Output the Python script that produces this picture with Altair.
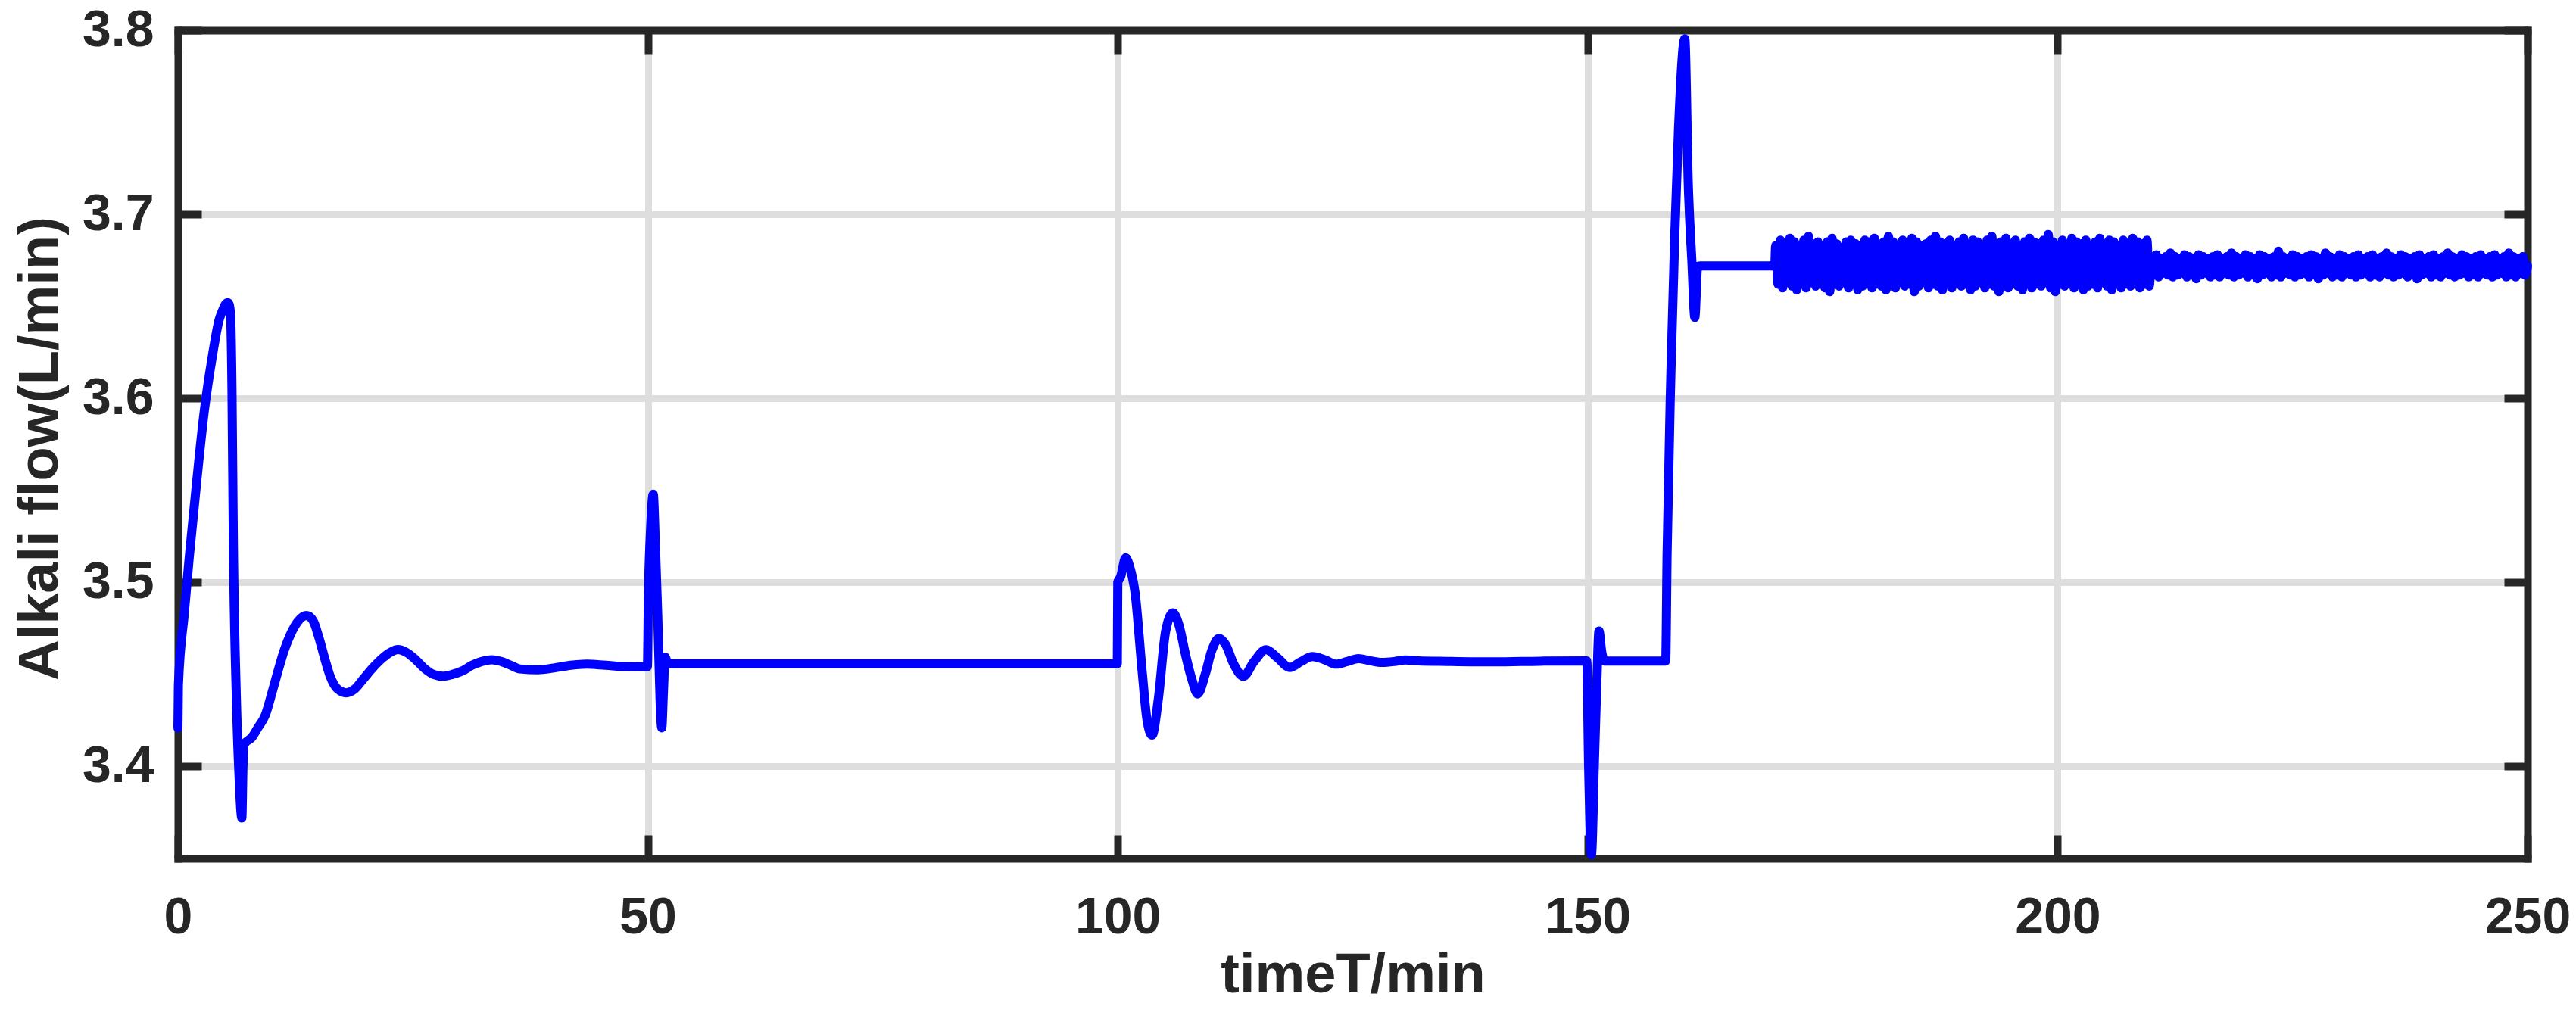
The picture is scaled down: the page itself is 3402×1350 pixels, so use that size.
import altair as alt
import pandas as pd

# ---- smooth part of the signal (time in min, alkali flow in L/min)
t_main = [0.0, 0.05, 0.67, 1.21, 2.0, 2.8, 3.6, 4.4, 4.85, 5.1, 5.3, 5.45, 5.6, 5.75, 5.9, 6.2,
          6.5, 6.8, 6.92, 7.05, 7.9, 8.5, 9.3, 10.0, 10.6, 11.3, 12.0, 12.8, 13.7, 14.4, 15.0,
          15.6, 16.2, 17.0, 17.9, 18.8, 19.8, 20.8, 21.8, 22.6, 23.4, 24.3, 25.3, 26.3, 27.2,
          28.2, 29.2, 30.3, 31.3, 32.3, 33.4, 34.4, 35.4, 36.4, 38.3, 40.0, 41.8, 43.5, 45.5,
          47.7, 49.95, 50.05, 50.3, 50.57, 50.8, 51.05, 51.3, 51.48, 51.65, 51.83, 52.1, 52.4,
          99.95, 100.0, 100.3, 100.84, 101.3, 101.85, 102.57, 103.1, 103.65, 104.3, 105.1,
          105.87, 106.5, 107.24, 107.9, 108.5, 109.3, 110.0, 110.77, 111.5, 112.3, 113.36,
          114.5, 115.77, 117.0, 118.28, 119.5, 120.7, 122.0, 123.25, 124.4, 125.6, 126.8,
          128.1, 129.4, 130.6, 132.0, 135.0, 140.0, 145.0, 149.9, 150.1, 150.4, 150.7, 151.0,
          151.2, 151.5, 151.77, 158.3, 158.45, 158.86, 159.26, 159.66, 160.33, 160.7, 161.1,
          161.4, 161.7, 162.0, 169.9]
v_main = [3.421, 3.444, 3.483, 3.514, 3.555, 3.593, 3.621, 3.643, 3.649, 3.6515, 3.652,
          3.651, 3.645, 3.605, 3.520, 3.440, 3.395, 3.372, 3.400, 3.412, 3.416, 3.421, 3.428,
          3.440, 3.451, 3.463, 3.472, 3.479, 3.482, 3.479, 3.470, 3.459, 3.449, 3.442, 3.440,
          3.442, 3.448, 3.454, 3.459, 3.462, 3.4635, 3.462, 3.458, 3.453, 3.450, 3.449, 3.450,
          3.452, 3.455, 3.457, 3.458, 3.457, 3.455, 3.453, 3.4525, 3.4535, 3.455, 3.4556,
          3.455, 3.4543, 3.4542, 3.490, 3.530, 3.548, 3.520, 3.482, 3.436, 3.421, 3.440,
          3.4594, 3.4562, 3.4558, 3.4558, 3.500, 3.503, 3.5134, 3.508, 3.494, 3.453, 3.4257,
          3.417, 3.436, 3.4737, 3.4835, 3.477, 3.460, 3.447, 3.4394, 3.450, 3.463, 3.4696,
          3.466, 3.456, 3.449, 3.457, 3.4634, 3.459, 3.4538, 3.457, 3.4597, 3.458, 3.4556,
          3.457, 3.4586, 3.4575, 3.4565, 3.457, 3.4579, 3.4574, 3.4571, 3.4568, 3.4572,
          3.4574, 3.400, 3.352, 3.400, 3.450, 3.4736, 3.462, 3.4573, 3.4573, 3.5158, 3.615,
          3.6877, 3.7459, 3.7954, 3.7167, 3.673, 3.644, 3.6717, 3.672, 3.672]

noise_step = 0.5
noiseA_start = 170.0
noiseA_peaks = [3.683, 3.686, 3.684, 3.687, 3.685, 3.683, 3.686, 3.688, 3.684, 3.685,
                3.683, 3.685, 3.687, 3.684, 3.682, 3.685, 3.686, 3.684, 3.683, 3.686,
                3.685, 3.687, 3.684, 3.685, 3.688, 3.685, 3.683, 3.686, 3.684, 3.687,
                3.685, 3.683, 3.684, 3.686, 3.688, 3.685, 3.684, 3.686, 3.683, 3.685,
                3.687, 3.684, 3.686, 3.685, 3.683, 3.686, 3.688, 3.684, 3.685, 3.687,
                3.684, 3.686, 3.683, 3.685, 3.687, 3.685, 3.684, 3.686, 3.689, 3.685,
                3.683, 3.686, 3.684, 3.687, 3.685, 3.684, 3.686, 3.683, 3.685, 3.687,
                3.684, 3.686, 3.685, 3.683, 3.686, 3.684, 3.687, 3.685, 3.684, 3.686]
noiseA_troughs = [3.662, 3.660, 3.663, 3.661, 3.659, 3.662, 3.660, 3.663, 3.661, 3.662,
                  3.660, 3.658, 3.662, 3.661, 3.663, 3.660, 3.662, 3.659, 3.661, 3.663,
                  3.660, 3.662, 3.661, 3.659, 3.662, 3.660, 3.663, 3.661, 3.662, 3.658,
                  3.661, 3.663, 3.660, 3.662, 3.661, 3.659, 3.662, 3.660, 3.663, 3.661,
                  3.662, 3.659, 3.661, 3.663, 3.660, 3.662, 3.661, 3.658, 3.662, 3.660,
                  3.663, 3.661, 3.659, 3.662, 3.660, 3.662, 3.661, 3.663, 3.660, 3.658,
                  3.662, 3.661, 3.663, 3.660, 3.662, 3.659, 3.661, 3.662, 3.660, 3.663,
                  3.661, 3.659, 3.662, 3.660, 3.662, 3.661, 3.663, 3.660, 3.662, 3.661]
noiseB_start = 210.0
noiseB_peaks = [3.677, 3.678, 3.676, 3.677, 3.679, 3.677, 3.676, 3.678, 3.677, 3.676,
                3.678, 3.677, 3.676, 3.677, 3.678, 3.676, 3.677, 3.679, 3.677, 3.676,
                3.678, 3.677, 3.676, 3.678, 3.677, 3.676, 3.677, 3.680, 3.677, 3.676,
                3.678, 3.677, 3.676, 3.677, 3.678, 3.677, 3.676, 3.679, 3.677, 3.676,
                3.678, 3.677, 3.676, 3.677, 3.678, 3.676, 3.677, 3.678, 3.676, 3.677,
                3.679, 3.677, 3.676, 3.678, 3.677, 3.676, 3.677, 3.678, 3.676, 3.677,
                3.678, 3.676, 3.677, 3.679, 3.677, 3.676, 3.678, 3.677, 3.676, 3.677,
                3.678, 3.676, 3.677, 3.678, 3.676, 3.677, 3.679, 3.677, 3.676, 3.677]
noiseB_troughs = [3.667, 3.666, 3.668, 3.667, 3.666, 3.667, 3.668, 3.666, 3.667, 3.665,
                  3.667, 3.668, 3.666, 3.667, 3.666, 3.668, 3.667, 3.666, 3.667, 3.668,
                  3.666, 3.667, 3.665, 3.667, 3.668, 3.666, 3.667, 3.666, 3.668, 3.667,
                  3.666, 3.667, 3.668, 3.666, 3.667, 3.665, 3.667, 3.668, 3.666, 3.667,
                  3.666, 3.668, 3.667, 3.666, 3.667, 3.668, 3.666, 3.667, 3.666, 3.668,
                  3.667, 3.666, 3.667, 3.668, 3.666, 3.667, 3.665, 3.667, 3.668, 3.666,
                  3.667, 3.666, 3.668, 3.667, 3.666, 3.667, 3.668, 3.666, 3.667, 3.666,
                  3.668, 3.667, 3.666, 3.667, 3.668, 3.666, 3.667, 3.666, 3.668, 3.667]
t_end, v_end = 250.0, 3.672

x_ticks = [0, 50, 100, 150, 200, 250]
y_ticks = [3.4, 3.5, 3.6, 3.7, 3.8]

# ---- assemble the table
rows = list(zip(t_main, v_main))
for start, peaks, troughs in [(noiseA_start, noiseA_peaks, noiseA_troughs),
                              (noiseB_start, noiseB_peaks, noiseB_troughs)]:
    for i, (p, q) in enumerate(zip(peaks, troughs)):
        rows.append((start + noise_step * i, p))
        rows.append((start + noise_step * i + noise_step / 2, q))
rows.append((t_end, v_end))
df = pd.DataFrame(rows, columns=["t", "v"]).sort_values("t")

W, H = 3103, 1094
INK = "#262626"
FONT = "Liberation Sans"

xs = alt.Scale(domain=[0, 250], nice=False, zero=False)
ys = alt.Scale(domain=[3.35, 3.8], nice=False, zero=False)

base = alt.Chart(df)

main = base.mark_line(color="#0000ff", strokeWidth=12, strokeCap="round",
                      strokeJoin="round", interpolate="monotone").encode(
    x=alt.X("t:Q", scale=xs, axis=alt.Axis(
        orient="bottom", values=x_ticks, format="d", grid=True, gridColor="#dedede",
        gridWidth=9, domain=False, ticks=False, tickSize=0, labelFont=FONT,
        labelFontWeight="bold", labelFontSize=68, labelColor=INK, labelPadding=44,
        labelFlush=False, labelOverlap=False, title="timeT/min", titleFont=FONT,
        titleFontSize=74, titleFontWeight="bold", titleColor=INK, titleY=176,
        titleBaseline="alphabetic")),
    y=alt.Y("v:Q", scale=ys, axis=alt.Axis(
        orient="left", values=y_ticks, format=".1f", grid=True, gridColor="#dedede",
        gridWidth=9, domain=False, ticks=False, tickSize=0, labelFont=FONT,
        labelFontWeight="bold", labelFontSize=68, labelColor=INK, labelPadding=32,
        labelFlush=False, labelOverlap=False, title="Alkali flow(L/min)", titleFont=FONT,
        titleFontSize=74, titleFontWeight="bold", titleColor=INK, titleX=-160, titleY=552,
        titleBaseline="alphabetic", titleAngle=270)),
)


def frame_axis(orient, values, offset):
    return alt.Axis(orient=orient, offset=offset, values=values, grid=False, labels=False,
                    ticks=True, tickSize=31, tickWidth=10, tickColor=INK, domain=True,
                    domainWidth=10, domainColor=INK, domainCap="square", title="")


# frame at bottom + left with inward ticks
frame1 = base.mark_line(strokeOpacity=0).encode(
    x=alt.X("t:Q", scale=xs, axis=frame_axis("top", x_ticks, -H)),
    y=alt.Y("v:Q", scale=ys, axis=frame_axis("right", y_ticks, -W)),
)
# frame at top + right with inward ticks
frame2 = base.mark_line(strokeOpacity=0).encode(
    x=alt.X("t:Q", scale=xs, axis=frame_axis("bottom", x_ticks, -H)),
    y=alt.Y("v:Q", scale=ys, axis=frame_axis("left", y_ticks, -W)),
)

chart = alt.layer(main, frame1, frame2).resolve_axis(
    x="independent", y="independent"
).properties(
    width=W, height=H,
    autosize=alt.AutoSizeParams(type="none"),
    padding={"left": 227, "top": 32, "right": 56, "bottom": 216},
    background="white",
).configure_view(strokeWidth=0)

chart.save("out.html", embed_options={"renderer": "svg", "actions": False})
